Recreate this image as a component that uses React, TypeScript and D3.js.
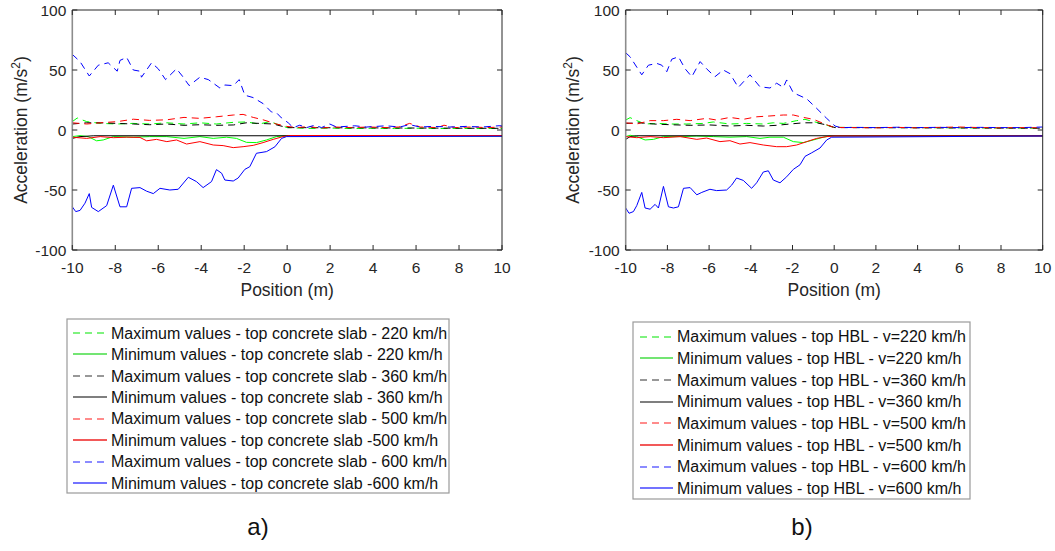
import React from 'react';
import * as d3 from 'd3';

// canvas
const W = 1055;
const H = 551;

// axis ticks
const xTicks = [-10, -8, -6, -4, -2, 0, 2, 4, 6, 8, 10];
const yTicks = [-100, -50, 0, 50, 100];

// series colours / styles in plotting order (max dashed, min solid)
const seriesColors = ['#00ff00', '#00ff00', '#000000', '#000000', '#ff0000', '#ff0000', '#0000ff', '#0000ff'];
const legendColors = ['#55ee55', '#44dd44', '#777777', '#555555', '#ff6666', '#ee2222', '#6666ff', '#4444ff'];
const seriesDashed = [true, false, true, false, true, false, true, false];

// legend labels
const leftLabels = [
  'Maximum values - top concrete slab - 220 km/h',
  'Minimum values - top concrete slab - 220 km/h',
  'Maximum values - top concrete slab - 360 km/h',
  'Minimum values - top concrete slab - 360 km/h',
  'Maximum values - top concrete slab - 500 km/h',
  'Minimum values - top concrete slab -500 km/h',
  'Maximum values - top concrete slab - 600 km/h',
  'Minimum values - top concrete slab -600 km/h',
];
const rightLabels = [
  'Maximum values - top HBL - v=220 km/h',
  'Minimum values - top HBL - v=220 km/h',
  'Maximum values - top HBL - v=360 km/h',
  'Minimum values - top HBL - v=360 km/h',
  'Maximum values - top HBL - v=500 km/h',
  'Minimum values - top HBL - v=500 km/h',
  'Maximum values - top HBL - v=600 km/h',
  'Minimum values - top HBL - v=600 km/h',
];

type Pt = [number, number];

// ---- a) top concrete slab ----
const leftMax220: Pt[] = [[-10, 7], [-9.77, 10], [-9.33, 7], [-8.7, 5.5], [-7.9, 5], [-7.2, 5.5], [-6.4, 5], [-5.6, 6], [-4.8, 5], [-4.06, 6], [-3.3, 5], [-2.5, 6.4], [-1.9, 6.7], [-1.3, 5], [-0.8, 7], [-0.34, 4], [0, 2], [1, 1.3], [2, 1.6], [3, 1.2], [4, 1.4], [5, 1.2], [6, 1.5], [7, 1.2], [8, 1.3], [9, 1.2], [10, 1.3]];
const leftMin220: Pt[] = [[-10, -5.5], [-9.64, -4.7], [-9.26, -5.5], [-8.87, -9], [-8.56, -8.3], [-8.09, -5.5], [-7.16, -6], [-6.4, -5.5], [-5.6, -5.5], [-4.8, -7], [-4.06, -5.5], [-3.44, -7], [-2.82, -6], [-2.36, -7], [-1.89, -10.3], [-1.43, -10.5], [-0.96, -8.3], [-0.5, -5.5], [-0.03, -4.7], [10, -5]];
const leftMax360: Pt[] = [[-10, 5], [-9.33, 6], [-8.7, 6], [-7.16, 5], [-6.4, 4.4], [-5.6, 5], [-4.8, 3.9], [-4.06, 4.4], [-3.3, 3.9], [-2.5, 4.2], [-1.9, 6], [-1.3, 5.5], [-0.65, 5], [0, 2], [10, 1.4]];
const leftMin360: Pt[] = [[-10, -7], [-9.64, -5.5], [-9, -4.8], [10, -4.8]];
const leftMax500: Pt[] = [[-10, 6], [-9.33, 5], [-8.7, 6], [-7.9, 7], [-7.16, 9], [-6.4, 8], [-5.6, 8.5], [-4.8, 10.5], [-4.06, 9.7], [-3.3, 11], [-2.5, 12.5], [-2.05, 13], [-1.58, 10.5], [-1.12, 8.5], [-0.5, 5], [-0.03, 3], [0.5, 2], [1, 3], [1.5, 1.5], [2.2, 2.5], [3, 2], [3.8, 2.5], [4.6, 2], [5.2, 2.5], [5.7, 5.5], [6.2, 2.5], [7, 2], [7.3, 4], [7.8, 2], [8.6, 2.5], [9.3, 2], [10, 2.5]];
const leftMin500: Pt[] = [[-10, -6], [-9.33, -7], [-8.7, -5.5], [-8.09, -6.4], [-7.47, -6], [-6.85, -6.2], [-6.54, -9], [-6.08, -7.8], [-5.6, -9.7], [-5.15, -8.3], [-4.68, -11.7], [-4.06, -9.7], [-3.44, -12.5], [-2.98, -13], [-2.51, -14.7], [-2.05, -13.9], [-1.58, -12.8], [-1.12, -10.5], [-0.65, -7.8], [-0.19, -5.5], [0.12, -4.6], [10, -4.6]];
const leftMax600: Pt[] = [[-10, 63], [-9.64, 57], [-9.21, 45], [-8.79, 54], [-8.33, 56], [-7.91, 49], [-7.78, 58], [-7.47, 60.5], [-7.16, 50], [-6.85, 49], [-6.78, 44], [-6.31, 56], [-6.0, 51], [-5.66, 42], [-5.15, 51], [-4.88, 45], [-4.56, 37], [-4.06, 44], [-3.67, 42], [-3.13, 35], [-2.9, 37.5], [-2.51, 37], [-2.23, 42], [-1.97, 29], [-1.58, 27], [-1.12, 22], [-0.73, 15], [-0.5, 14.4], [-0.26, 10], [0.05, 6], [0.28, 2], [0.59, 4], [0.9, 2], [1.29, 4], [1.6, 2], [1.98, 5], [2.3, 2.5], [3.15, 3.5], [3.7, 2.5], [4.6, 3.5], [5.24, 2.5], [5.7, 4.5], [6.17, 2.5], [6.8, 3], [7.57, 2.5], [8.34, 3], [9.1, 2.5], [9.9, 3.6], [10, 3.3]];
const leftMin600: Pt[] = [[-10, -64], [-9.84, -68], [-9.64, -67], [-9.41, -61], [-9.21, -53], [-9.1, -64.5], [-8.79, -68], [-8.4, -63], [-8.09, -46], [-7.78, -64], [-7.47, -64], [-7.24, -48.6], [-6.85, -48], [-6.54, -51], [-6.23, -53], [-5.92, -48.6], [-5.46, -50], [-5.07, -49.4], [-4.6, -39.4], [-4.22, -43], [-3.91, -48], [-3.52, -43], [-3.29, -33], [-3.05, -36], [-2.9, -41.7], [-2.51, -42.5], [-2.28, -40], [-1.97, -32.8], [-1.74, -30.6], [-1.43, -19.4], [-0.96, -18], [-0.57, -14], [-0.26, -7], [-0.03, -5.5], [10, -5.2]];

// ---- b) top HBL ----
const rightMax220: Pt[] = [[-10, 8.3], [-9.79, 10.3], [-9.47, 7.8], [-9.07, 5], [-8.51, 5.5], [-7.87, 5], [-7.07, 5], [-6.27, 5.5], [-5.8, 6.7], [-5, 5], [-4.2, 5.5], [-3.4, 5], [-2.92, 6], [-2.44, 5.5], [-1.8, 7.8], [-1.4, 8.9], [-1, 7], [-0.52, 5], [-0.04, 2.2], [10, 1.5]];
const rightMin220: Pt[] = [[-10, -5.5], [-9.79, -4.4], [-9.47, -5.5], [-9.07, -8.3], [-8.67, -7.8], [-8.19, -5.5], [-7.39, -5.5], [-6.59, -5], [-5.8, -5.5], [-5, -6], [-4.2, -5.5], [-3.56, -7], [-3.08, -6], [-2.44, -6], [-1.96, -9.7], [-1.48, -10.5], [-1, -8.3], [-0.52, -6], [-0.2, -5], [10, -5]];
const rightMax360: Pt[] = [[-10, 5.5], [-9.31, 6], [-8.67, 5], [-7.87, 4.4], [-6.91, 3.9], [-5.96, 4.2], [-5, 3.3], [-4.2, 3.9], [-3.4, 3.3], [-2.76, 3.9], [-2.12, 5], [-1.48, 6], [-0.84, 6], [-0.36, 4.2], [0.04, 2], [10, 1.5]];
const rightMin360: Pt[] = [[-10, -7.8], [-9.79, -5.5], [-9.5, -4.8], [10, -4.8]];
const rightMax500: Pt[] = [[-10, 6], [-9.47, 5], [-8.83, 7.8], [-8.19, 7.8], [-7.55, 8.9], [-6.91, 7.8], [-6.12, 9.7], [-5.64, 8.3], [-5, 10.5], [-4.36, 8.9], [-3.72, 11], [-3.08, 11.7], [-2.44, 12.5], [-1.96, 12.5], [-1.48, 10.5], [-1, 8.9], [-0.52, 5.5], [-0.04, 2.2], [1, 2], [2, 1.8], [3, 2.2], [4, 1.8], [5, 2.2], [6, 2.5], [7, 2], [8, 1.8], [9, 2], [10, 1.8]];
const rightMin500: Pt[] = [[-10, -5.5], [-9.47, -6.4], [-8.83, -5.5], [-8.19, -6.4], [-7.39, -5.5], [-6.59, -7.8], [-6.12, -6.7], [-5.48, -9.7], [-5, -8.9], [-4.52, -11.7], [-4.04, -10.5], [-3.4, -12.5], [-2.76, -13.9], [-2.28, -13.9], [-1.8, -12.5], [-1.32, -9.7], [-0.84, -7], [-0.36, -5.5], [0, -5], [10, -5]];
const rightMax600: Pt[] = [[-10, 64.4], [-9.79, 61], [-9.23, 46], [-8.91, 54], [-8.51, 55.5], [-8.27, 54], [-8.03, 48.6], [-7.79, 59], [-7.47, 61], [-7.15, 51], [-6.83, 44.4], [-6.43, 57], [-6.12, 51], [-5.72, 44.4], [-5.32, 50], [-5.0, 47], [-4.6, 35.5], [-4.04, 46], [-3.56, 36], [-3.08, 35], [-2.76, 39], [-2.44, 35.5], [-2.28, 41.7], [-1.96, 31], [-1.32, 26], [-0.84, 18], [-0.36, 9.7], [0.04, 3.3], [0.3, 2], [1, 2.2], [2, 2], [3, 2.3], [4, 2], [5, 2.2], [6, 2], [7, 2.2], [8, 2], [9, 2], [10, 2.5]];
const rightMin600: Pt[] = [[-10, -65], [-9.84, -69.4], [-9.63, -68], [-9.47, -63], [-9.23, -52], [-9.07, -65], [-8.83, -66], [-8.59, -62], [-8.43, -65], [-8.19, -47], [-7.95, -64], [-7.71, -65], [-7.47, -64], [-7.23, -48.6], [-6.91, -48], [-6.59, -54], [-6.35, -52], [-5.96, -49.4], [-5.64, -50.5], [-5.16, -50], [-4.92, -46], [-4.68, -40], [-4.36, -42], [-3.96, -48.6], [-3.72, -44], [-3.4, -35], [-3.16, -34], [-2.92, -41.7], [-2.6, -44], [-2.28, -39], [-1.96, -32.8], [-1.64, -29], [-1.4, -22], [-1.08, -19], [-0.68, -15], [-0.36, -8.3], [-0.12, -6], [10, -5]];

const leftSeries = [leftMax220, leftMin220, leftMax360, leftMin360, leftMax500, leftMin500, leftMax600, leftMin600];
const rightSeries = [rightMax220, rightMin220, rightMax360, rightMin360, rightMax500, rightMin500, rightMax600, rightMin600];

const font = '"Liberation Sans", Arial, Helvetica, sans-serif';
const axisColor = '#262626';
const dash = '7,5';

type LegendBox = { x: number; y: number; w: number; h: number; row0: number; step: number; l0: number; l1: number; tx: number };

const Panel = ({ x0, x1, series, labels, legend, tag, tagX, yLabelX }: {
  x0: number; x1: number; series: Pt[][]; labels: string[]; legend: LegendBox; tag: string; tagX: number; yLabelX: number;
}) => {
  const top = 10;
  const bottom = 250;
  const x = d3.scaleLinear().domain([-10, 10]).range([x0, x1]);
  const y = d3.scaleLinear().domain([-100, 100]).range([bottom, top]);
  const line = d3.line<Pt>().x(d => x(d[0])).y(d => y(d[1]));
  const tl = 5;

  return (
    <g fontFamily={font}>
      {/* data */}
      <g fill="none">
        {series.map((s, i) => (
          <path key={i} d={line(s) || ''} stroke={seriesColors[i]} strokeWidth={1}
            strokeDasharray={seriesDashed[i] ? dash : undefined} />
        ))}
      </g>
      {/* box */}
      <line x1={x0} x2={x1} y1={top} y2={top} stroke={axisColor} strokeWidth={1} />
      <line x1={x0} x2={x1} y1={bottom} y2={bottom} stroke={axisColor} strokeWidth={1} />
      <line x1={x1} x2={x1} y1={top} y2={bottom} stroke={axisColor} strokeWidth={1} />
      <line x1={x0} x2={x0} y1={top} y2={bottom} stroke="#8c8c8c" strokeWidth={1.6} />
      {xTicks.map(t => (
        <g key={'x' + t}>
          <line x1={x(t)} x2={x(t)} y1={bottom} y2={bottom - tl} stroke={axisColor} />
          <line x1={x(t)} x2={x(t)} y1={top} y2={top + tl} stroke={axisColor} />
          <text x={x(t)} y={273} textAnchor="middle" fontSize={15.5} fill={axisColor}>{t}</text>
        </g>
      ))}
      {yTicks.map(t => (
        <g key={'y' + t}>
          <line x1={x0} x2={x0 + tl} y1={y(t)} y2={y(t)} stroke={axisColor} />
          <line x1={x1} x2={x1 - tl} y1={y(t)} y2={y(t)} stroke={axisColor} />
          <text x={x0 - 6} y={y(t)} dy="0.36em" textAnchor="end" fontSize={15.5} fill={axisColor}>{t}</text>
        </g>
      ))}
      <text x={(x0 + x1) / 2} y={296} textAnchor="middle" fontSize={17.5} fill={axisColor}>Position (m)</text>
      <text transform={`translate(${yLabelX},${(top + bottom) / 2}) rotate(-90)`} textAnchor="middle" fontSize={17.5} fill={axisColor}>
        Acceleration (m/s<tspan dy={-7} fontSize={12}>2</tspan><tspan dy={7}>)</tspan>
      </text>
      {/* legend */}
      <rect x={legend.x} y={legend.y} width={legend.w} height={legend.h} fill="#fff" stroke="#9a9a9a" strokeWidth={1.2} />
      {labels.map((lab, i) => {
        const ry = legend.row0 + i * legend.step;
        const ly = Math.round(ry);
        return (
          <g key={lab}>
            <line x1={legend.l0} x2={legend.l1} y1={ly} y2={ly} stroke={legendColors[i]} strokeWidth={1.6}
              strokeDasharray={seriesDashed[i] ? dash : undefined} />
            <text x={legend.tx} y={ry} dy="0.36em" fontSize={16} fill="#111">{lab}</text>
          </g>
        );
      })}
      <text x={tagX} y={535} textAnchor="middle" fontSize={24} fill="#111">{tag}</text>
    </g>
  );
};

const App = () => {
  return (
    <svg width={W} height={H} style={{ position: 'absolute', left: 0, top: 0, background: '#fff' }}>
      <rect width={W} height={H} fill="#fff" />
      <Panel x0={72.3} x1={502} series={leftSeries} labels={leftLabels} tag="a)" tagX={258} yLabelX={27}
        legend={{ x: 67, y: 319, w: 382, h: 174, row0: 333, step: 21.43, l0: 73, l1: 107, tx: 111 }} />
      <Panel x0={625.7} x1={1042.7} series={rightSeries} labels={rightLabels} tag="b)" tagX={802} yLabelX={579}
        legend={{ x: 633, y: 322, w: 337, h: 177, row0: 336.7, step: 21.66, l0: 640, l1: 673, tx: 677 }} />
    </svg>
  );
};

export default App;
